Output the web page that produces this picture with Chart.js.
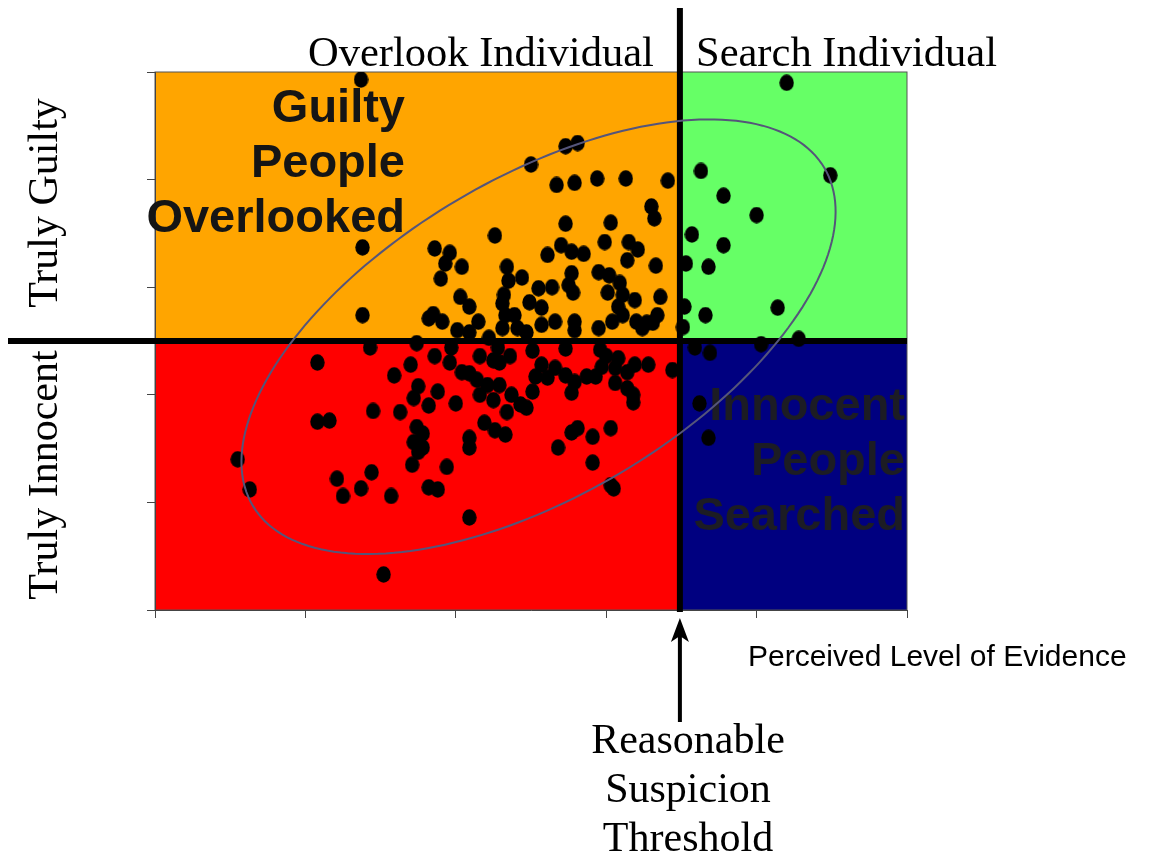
<!DOCTYPE html>
<html>
<head>
<meta charset="utf-8">
<script src="https://cdn.jsdelivr.net/npm/chart.js@4.4.1/dist/chart.umd.min.js"></script>
<style>
  html, body { margin: 0; padding: 0; background: #fff; }
  #wrap { width: 1159px; height: 852px; position: relative; }
</style>
</head>
<body>
<div id="wrap"><canvas id="evidenceChart"></canvas></div>
<script>
// perceived level of evidence (x) and true guilt (y)
var evidence = [
  1.37, 1.38, 1.38, 2.50, 2.73, 2.81, 2.67, 2.79, 2.94, 3.13,
  3.41, 3.30, 3.32, 2.73, 3.03, 2.99, 3.15, 3.21, 2.70, 2.77,
  2.85, 2.61, 3.14, 3.33, 2.95, 3.02, 2.77, 3.09, 2.26, 1.86,
  1.96, 1.93, 2.04, 2.34, 1.90, 2.44, 2.35, 2.03, 2.09, 1.85,
  1.91, 2.15, 2.01, 2.09, 2.22, 2.32, 2.31, 2.33, 2.39, 2.31,
  2.41, 2.49, 2.55, 2.64, 2.75, 2.78, 2.57, 2.57, 2.66, 2.79,
  2.79, 2.95, 3.04, 2.47, 3.01, 3.11, 3.19, 3.36, 3.08, 3.11,
  3.20, 3.34, 3.27, 3.31, 3.24, 1.82,
  4.20, 4.49, 3.63, 3.78, 4.00, 3.57, 3.78, 3.53, 3.68, 3.52,
  3.66, 4.14, 3.51, 3.59, 3.69, 4.03, 4.28, 3.62, 3.68,
  1.08, 1.43, 1.74, 1.97, 1.86, 1.70, 1.96, 2.16, 2.25, 1.59,
  2.04, 2.09, 2.14, 2.21, 1.75, 1.72, 1.88, 1.82, 2.00, 2.16,
  2.25, 1.63, 2.19, 2.26, 1.74, 1.78, 1.72, 1.78, 2.09, 2.09,
  1.45, 1.08, 1.16, 2.36, 2.28, 2.51, 2.73, 2.96, 2.29, 2.57,
  2.66, 2.53, 2.61, 2.73, 2.79, 2.87, 2.93, 2.77, 2.29, 2.37,
  2.51, 2.43, 2.47, 2.34, 2.97, 3.08, 3.06, 3.14, 3.19, 3.18,
  2.77, 2.81, 2.91, 3.03, 2.68, 2.33, 2.91, 3.28, 3.44, 3.14,
  3.18, 1.75, 1.71, 1.94, 1.82, 1.88, 2.09, 3.03, 3.05, 0.55,
  0.63, 1.21, 1.25, 1.44, 1.37, 1.57, 1.52, 3.00, 3.06
];
var guilt = [
  4.93, 3.37, 2.74, 4.14, 4.31, 4.34, 3.95, 3.97, 4.01, 4.01,
  3.99, 3.75, 3.64, 3.59, 3.60, 3.42, 3.42, 3.35, 3.39, 3.33,
  3.31, 3.30, 3.25, 3.20, 3.14, 3.11, 3.13, 3.04, 3.48, 3.36,
  3.32, 3.22, 3.19, 3.19, 3.08, 3.09, 3.06, 2.91, 2.82, 2.75,
  2.68, 2.68, 2.60, 2.58, 2.53, 2.93, 2.85, 2.74, 2.74, 2.62,
  2.62, 2.86, 2.99, 3.00, 3.02, 2.95, 2.81, 2.65, 2.68, 2.68,
  2.60, 2.62, 2.68, 2.58, 2.95, 2.93, 2.88, 2.91, 2.82, 2.74,
  2.68, 2.74, 2.67, 2.67, 2.62, 2.71,
  4.90, 4.04, 4.08, 3.85, 3.67, 3.49, 3.39, 3.22, 3.19, 2.82,
  2.74, 2.81, 2.63, 2.44, 2.39, 2.47, 2.52, 1.92, 1.60,
  2.30, 2.44, 2.48, 2.44, 2.36, 2.28, 2.30, 2.36, 2.32, 2.18,
  2.21, 2.20, 2.14, 2.09, 2.08, 1.97, 2.03, 1.90, 1.92, 2.00,
  1.95, 1.84, 1.74, 1.67, 1.70, 1.64, 1.56, 1.51, 1.60, 1.51,
  1.85, 1.75, 1.76, 2.36, 2.44, 2.41, 2.43, 2.42, 2.30, 2.28,
  2.25, 2.17, 2.16, 2.18, 2.12, 2.17, 2.17, 2.02, 2.09, 2.00,
  2.03, 1.91, 1.88, 1.84, 2.26, 2.34, 2.11, 2.06, 2.28, 1.93,
  1.65, 1.69, 1.61, 1.69, 1.51, 1.63, 1.37, 2.28, 2.23, 2.21,
  2.00, 1.47, 1.35, 1.33, 1.14, 1.12, 0.86, 1.16, 1.13, 1.40,
  1.12, 1.22, 1.06, 1.28, 1.13, 1.06, 0.33, 2.36, 2.25
];

var axisMin = 0;
var axisMax = 5;
var suspicionThreshold = 3.49;
var guiltLine = 2.5;

// ellipse around the cloud: centre and two conjugate half-diameters, in data units
var ellipseCenter = [2.55, 2.54];
var ellipseU = [1.90, 1.57];
var ellipseV = [0.54, -1.27];

var topLabels = ['Overlook Individual', 'Search Individual'];
var sideLabels = ['Truly Guilty', 'Truly Innocent'];
var overlookedText = ['Guilty', 'People', 'Overlooked'];
var searchedText = ['Innocent', 'People', 'Searched'];
var xTitle = 'Perceived Level of Evidence';
var thresholdText = ['Reasonable', 'Suspicion', 'Threshold'];

var points = evidence.map(function (x, i) { return { x: x, y: guilt[i] }; });

// black dot, a bit taller than wide
var dot = document.createElement('canvas');
dot.width = 15; dot.height = 17;
(function () {
  var c = dot.getContext('2d');
  c.fillStyle = '#000';
  c.beginPath();
  c.ellipse(7.5, 8.5, 7.2, 8.3, 0, 0, Math.PI * 2);
  c.fill();
})();

var quadrantPlugin = {
  id: 'quadrants',
  beforeDraw: function (chart) {
    var ctx = chart.ctx, xs = chart.scales.x, ys = chart.scales.y;
    var x0 = xs.getPixelForValue(axisMin), x1 = xs.getPixelForValue(suspicionThreshold), x2 = xs.getPixelForValue(axisMax);
    var y0 = ys.getPixelForValue(axisMax), y1 = ys.getPixelForValue(guiltLine), y2 = ys.getPixelForValue(axisMin);
    ctx.save();
    ctx.fillStyle = '#ffa500'; ctx.fillRect(x0, y0, x1 - x0, y1 - y0);
    ctx.fillStyle = '#66ff66'; ctx.fillRect(x1, y0, x2 - x1, y1 - y0);
    ctx.fillStyle = '#ff0000'; ctx.fillRect(x0, y1, x1 - x0, y2 - y1);
    ctx.fillStyle = '#000080'; ctx.fillRect(x1, y1, x2 - x1, y2 - y1);
    ctx.strokeStyle = '#555';
    ctx.lineWidth = 1;
    ctx.strokeRect(x0, y0, x2 - x0, y2 - y0);
    ctx.restore();
  },
  afterDatasetsDraw: function (chart) {
    var ctx = chart.ctx, xs = chart.scales.x, ys = chart.scales.y;
    var xT = xs.getPixelForValue(suspicionThreshold);
    var yG = ys.getPixelForValue(guiltLine);
    var xEnd = xs.getPixelForValue(axisMax);
    var yBottom = ys.getPixelForValue(axisMin);
    ctx.save();

    // quadrant captions
    ctx.font = 'bold 47px "Liberation Sans", Arial, sans-serif';
    ctx.textAlign = 'right';
    ctx.fillStyle = '#151515';
    overlookedText.forEach(function (t, i) { ctx.fillText(t, 405, 122 + i * 55); });
    ctx.fillStyle = '#1c1c24';
    searchedText.forEach(function (t, i) { ctx.fillText(t, 905, 420 + i * 55); });

    // threshold lines
    ctx.strokeStyle = '#000';
    ctx.lineWidth = 6;
    ctx.beginPath();
    ctx.moveTo(8, yG); ctx.lineTo(xEnd, yG);
    ctx.moveTo(xT, 8); ctx.lineTo(xT, yBottom + 2);
    ctx.stroke();

    // arrow pointing at the threshold
    ctx.lineWidth = 4;
    ctx.beginPath();
    ctx.moveTo(xT, 636); ctx.lineTo(xT, 722);
    ctx.stroke();
    ctx.fillStyle = '#000';
    ctx.beginPath();
    ctx.moveTo(xT, 618);
    ctx.lineTo(xT - 9, 642);
    ctx.lineTo(xT, 636);
    ctx.lineTo(xT + 9, 642);
    ctx.closePath();
    ctx.fill();

    // ellipse
    ctx.strokeStyle = '#55557a';
    ctx.lineWidth = 2;
    ctx.beginPath();
    for (var i = 0; i <= 200; i++) {
      var t = i / 200 * Math.PI * 2;
      var ex = ellipseCenter[0] + ellipseU[0] * Math.cos(t) + ellipseV[0] * Math.sin(t);
      var ey = ellipseCenter[1] + ellipseU[1] * Math.cos(t) + ellipseV[1] * Math.sin(t);
      var px = xs.getPixelForValue(ex), py = ys.getPixelForValue(ey);
      if (i === 0) ctx.moveTo(px, py); else ctx.lineTo(px, py);
    }
    ctx.stroke();

    // serif labels
    ctx.fillStyle = '#000';
    ctx.font = '42.5px "Liberation Serif", "Times New Roman", serif';
    ctx.textAlign = 'left';
    ctx.fillText(topLabels[0], 308, 66);
    ctx.fillText(topLabels[1], 696, 66);
    ctx.font = '42px "Liberation Serif", "Times New Roman", serif';
    ctx.textAlign = 'center';
    thresholdText.forEach(function (t, i) { ctx.fillText(t, 688, 753 + i * 49); });

    ctx.save();
    ctx.translate(57, 203);
    ctx.rotate(-Math.PI / 2);
    ctx.fillText(sideLabels[0], 0, 0);
    ctx.restore();
    ctx.save();
    ctx.translate(57, 475);
    ctx.rotate(-Math.PI / 2);
    ctx.fillText(sideLabels[1], 0, 0);
    ctx.restore();

    ctx.font = '30px "Liberation Sans", Arial, sans-serif';
    ctx.textAlign = 'left';
    ctx.fillText(xTitle, 748, 666);
    ctx.restore();
  }
};

var axisStyle = {
  min: axisMin,
  max: axisMax,
  ticks: { display: false, stepSize: 1 },
  grid: { drawOnChartArea: false, drawTicks: true, tickLength: 8, color: '#444', lineWidth: 1 },
  border: { display: true, color: '#444', width: 1 }
};

new Chart(document.getElementById('evidenceChart'), {
  type: 'scatter',
  data: {
    datasets: [{
      data: points,
      pointStyle: dot,
      backgroundColor: '#000',
      borderColor: '#000',
      pointRadius: 8
    }]
  },
  options: {
    responsive: true,
    maintainAspectRatio: false,
    animation: false,
    layout: { padding: { left: 145, right: 252, top: 72, bottom: 232 } },
    plugins: { legend: { display: false }, tooltip: { enabled: false } },
    scales: {
      x: Object.assign({ type: 'linear', afterFit: function (s) { s.height = 10; } }, axisStyle),
      y: Object.assign({ type: 'linear', afterFit: function (s) { s.width = 10; } }, axisStyle)
    }
  },
  plugins: [quadrantPlugin]
});
</script>
</body>
</html>
